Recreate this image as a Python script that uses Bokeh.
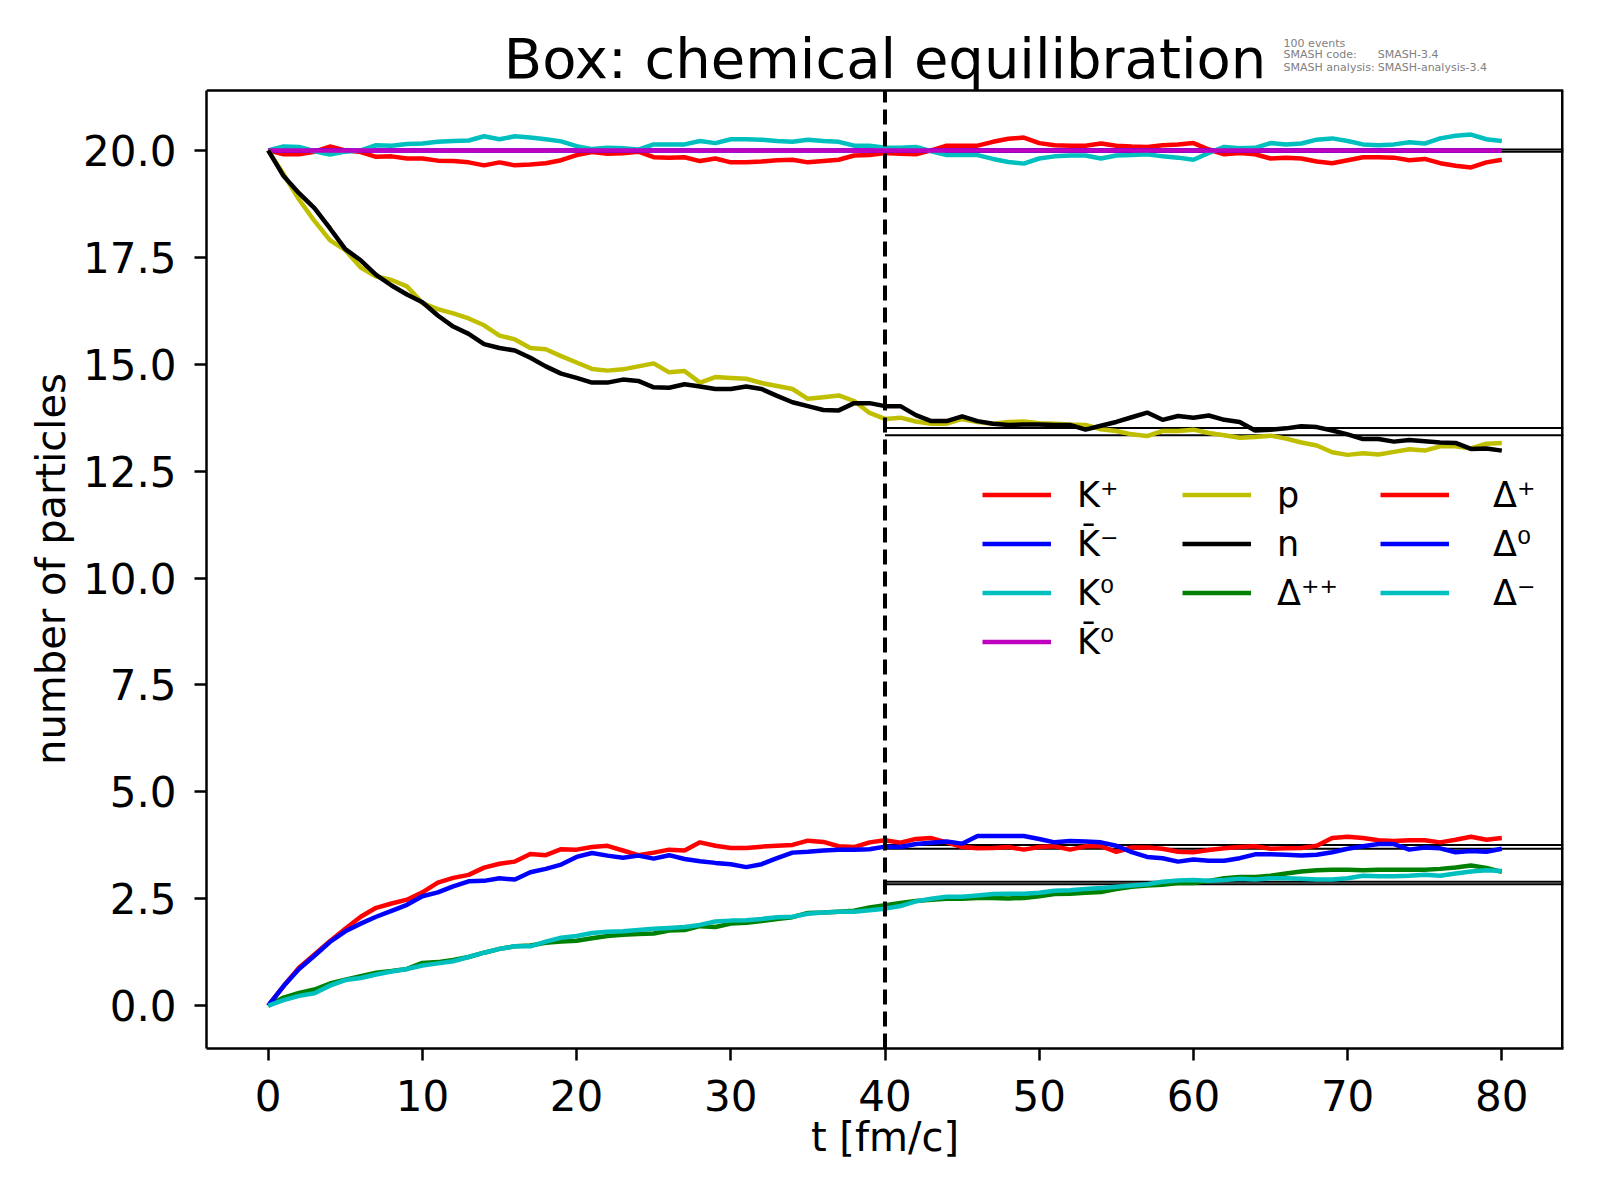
from bokeh.plotting import figure
from bokeh.models import (Range1d, FixedTicker, PrintfTickFormatter, Legend,
                          LegendItem, Label)
from bokeh.embed import file_html
from bokeh.resources import INLINE

FONT = "DejaVu Sans"

t = list(range(81))

k_plus = [20.0, 19.91, 19.91, 19.97, 20.09, 20.0, 19.96, 19.85, 19.86, 19.81,
          19.81, 19.76, 19.75, 19.72, 19.65, 19.72, 19.65, 19.67, 19.70, 19.77,
          19.89, 19.96, 19.92, 19.93, 19.97, 19.84, 19.83, 19.84, 19.75, 19.81,
          19.72, 19.72, 19.74, 19.77, 19.78, 19.72, 19.75, 19.78, 19.88, 19.89,
          19.94, 19.92, 19.91, 20.0, 20.11, 20.11, 20.11, 20.2, 20.27, 20.3,
          20.17, 20.12, 20.11, 20.11, 20.16, 20.11, 20.09, 20.08, 20.12, 20.14,
          20.17, 20.02, 19.91, 19.94, 19.91, 19.81, 19.83, 19.81, 19.74, 19.7,
          19.77, 19.84, 19.84, 19.83, 19.77, 19.8, 19.7, 19.64, 19.6, 19.72, 19.78]
k_bar_minus = [20.0] * 81
k_zero = [20.0, 20.09, 20.08, 19.98, 19.90, 19.97, 20.0, 20.12, 20.11, 20.15,
          20.16, 20.2, 20.22, 20.23, 20.33, 20.26, 20.33, 20.3, 20.26, 20.21,
          20.1, 20.03, 20.06, 20.05, 20.02, 20.14, 20.14, 20.14, 20.22, 20.17,
          20.26, 20.26, 20.25, 20.22, 20.2, 20.25, 20.22, 20.2, 20.11, 20.11,
          20.06, 20.06, 20.08, 19.98, 19.89, 19.89, 19.89, 19.8, 19.73, 19.69,
          19.81, 19.86, 19.88, 19.88, 19.81, 19.88, 19.89, 19.91, 19.86, 19.83,
          19.78, 19.94, 20.08, 20.05, 20.06, 20.17, 20.14, 20.16, 20.25, 20.28,
          20.22, 20.14, 20.12, 20.14, 20.19, 20.16, 20.28, 20.34, 20.37, 20.26, 20.22]
k_bar_zero = [20.0] * 81
proton = [20.0, 19.44, 18.85, 18.35, 17.9, 17.67, 17.26, 17.05, 16.97, 16.82,
          16.43, 16.29, 16.19, 16.07, 15.91, 15.67, 15.58, 15.38, 15.35, 15.19,
          15.04, 14.89, 14.85, 14.88, 14.95, 15.02, 14.81, 14.84, 14.57, 14.70,
          14.68, 14.66, 14.56, 14.49, 14.42, 14.19, 14.23, 14.27, 14.14, 13.86,
          13.72, 13.75, 13.66, 13.61, 13.61, 13.72, 13.65, 13.61, 13.65, 13.66,
          13.62, 13.61, 13.59, 13.58, 13.48, 13.44, 13.36, 13.32, 13.44, 13.44,
          13.47, 13.39, 13.34, 13.28, 13.30, 13.33, 13.26, 13.17, 13.10, 12.94,
          12.88, 12.92, 12.89, 12.95, 13.01, 12.98, 13.08, 13.08, 13.03, 13.14, 13.16]
neutron = [20.0, 19.40, 19.0, 18.65, 18.18, 17.69, 17.43, 17.09, 16.84, 16.63,
           16.45, 16.14, 15.88, 15.71, 15.47, 15.38, 15.32, 15.15, 14.95, 14.78,
           14.68, 14.57, 14.57, 14.64, 14.61, 14.46, 14.45, 14.53, 14.48, 14.42,
           14.42, 14.48, 14.42, 14.26, 14.11, 14.02, 13.93, 13.92, 14.09, 14.09,
           14.02, 14.02, 13.81, 13.67, 13.67, 13.78, 13.67, 13.61, 13.58, 13.59,
           13.59, 13.58, 13.58, 13.47, 13.56, 13.65, 13.76, 13.87, 13.70, 13.79,
           13.75, 13.80, 13.70, 13.65, 13.45, 13.47, 13.50, 13.55, 13.53, 13.45,
           13.36, 13.25, 13.25, 13.19, 13.23, 13.20, 13.17, 13.16, 13.02, 13.03, 12.98]
delta_pp = [0.0, 0.19, 0.30, 0.38, 0.52, 0.61, 0.69, 0.77, 0.81, 0.86,
            1.0, 1.02, 1.07, 1.14, 1.24, 1.33, 1.39, 1.41, 1.47, 1.50,
            1.52, 1.58, 1.63, 1.66, 1.68, 1.69, 1.76, 1.77, 1.86, 1.84,
            1.92, 1.94, 1.98, 2.03, 2.07, 2.17, 2.18, 2.2, 2.22, 2.3,
            2.35, 2.4, 2.45, 2.48, 2.5, 2.5, 2.52, 2.52, 2.51, 2.52,
            2.56, 2.61, 2.62, 2.64, 2.66, 2.73, 2.78, 2.81, 2.83, 2.87,
            2.87, 2.92, 2.98, 3.01, 3.01, 3.04, 3.09, 3.14, 3.17, 3.18,
            3.18, 3.17, 3.18, 3.18, 3.18, 3.18, 3.2, 3.23, 3.28, 3.22, 3.13]
delta_p = [0.0, 0.46, 0.89, 1.2, 1.51, 1.80, 2.08, 2.29, 2.39, 2.48,
           2.65, 2.88, 2.99, 3.06, 3.23, 3.32, 3.37, 3.55, 3.52, 3.66,
           3.65, 3.71, 3.74, 3.63, 3.52, 3.58, 3.65, 3.63, 3.82, 3.74,
           3.69, 3.69, 3.72, 3.74, 3.76, 3.86, 3.83, 3.73, 3.71, 3.82,
           3.87, 3.81, 3.9, 3.92, 3.82, 3.71, 3.68, 3.69, 3.71, 3.65,
           3.71, 3.73, 3.65, 3.73, 3.73, 3.6, 3.7, 3.7, 3.67, 3.6,
           3.59, 3.64, 3.68, 3.71, 3.73, 3.67, 3.68, 3.69, 3.74, 3.92,
           3.95, 3.92, 3.87, 3.85, 3.87, 3.87, 3.82, 3.88, 3.95, 3.88, 3.92]
delta_0 = [0.0, 0.46, 0.86, 1.17, 1.49, 1.74, 1.92, 2.08, 2.22, 2.36,
           2.56, 2.65, 2.79, 2.91, 2.92, 2.98, 2.95, 3.12, 3.2, 3.3,
           3.48, 3.57, 3.51, 3.46, 3.51, 3.44, 3.52, 3.43, 3.38, 3.34,
           3.31, 3.24, 3.31, 3.45, 3.58, 3.6, 3.63, 3.65, 3.65, 3.66,
           3.72, 3.71, 3.78, 3.81, 3.84, 3.79, 3.97, 3.97, 3.97, 3.97,
           3.9, 3.82, 3.85, 3.84, 3.82, 3.74, 3.59, 3.48, 3.45, 3.37,
           3.42, 3.39, 3.39, 3.45, 3.54, 3.54, 3.53, 3.51, 3.53, 3.59,
           3.67, 3.73, 3.78, 3.78, 3.65, 3.7, 3.68, 3.59, 3.62, 3.6, 3.67]
delta_m = [0.0, 0.13, 0.23, 0.29, 0.47, 0.60, 0.65, 0.73, 0.80, 0.86,
           0.94, 0.99, 1.04, 1.14, 1.24, 1.33, 1.39, 1.39, 1.50, 1.59,
           1.63, 1.70, 1.73, 1.74, 1.77, 1.80, 1.82, 1.84, 1.89, 1.97,
           1.99, 2.0, 2.03, 2.07, 2.08, 2.15, 2.18, 2.2, 2.2, 2.23,
           2.27, 2.33, 2.44, 2.5, 2.55, 2.55, 2.58, 2.61, 2.62, 2.62,
           2.64, 2.69, 2.70, 2.73, 2.75, 2.78, 2.81, 2.84, 2.9, 2.93,
           2.94, 2.92, 2.94, 2.97, 2.95, 2.98, 2.98, 2.97, 2.95, 2.95,
           2.98, 3.04, 3.03, 3.03, 3.04, 3.06, 3.04, 3.09, 3.14, 3.17, 3.15]

# equilibrium reference values, drawn from t_eq onward
t_eq = 40
eq_values = [20.02, 19.97, 13.51, 13.34, 3.76, 3.67, 2.90, 2.84]

x_ticks = [0, 10, 20, 30, 40, 50, 60, 70, 80]
y_ticks = [0.0, 2.5, 5.0, 7.5, 10.0, 12.5, 15.0, 17.5, 20.0]

series = [
    ("K\u207A", k_plus, "#ff0000"),
    ("K\u0304\u207B", k_bar_minus, "#0000ff"),
    ("K\u2070", k_zero, "#00bfbf"),
    ("K\u0304\u2070", k_bar_zero, "#bf00bf"),
    ("p", proton, "#bfbf00"),
    ("n", neutron, "#000000"),
    ("\u0394\u207A\u207A", delta_pp, "#008000"),
    ("\u0394\u207A", delta_p, "#ff0000"),
    ("\u0394\u2070", delta_0, "#0000ff"),
    ("\u0394\u207B", delta_m, "#00bfbf"),
]

title_text = "Box: chemical equilibration"
info_left = ["100 events", "SMASH code:", "SMASH analysis:"]
info_right = ["", "SMASH-3.4", "SMASH-analysis-3.4"]

# axes limits (the visible box); the frame is extended upward by a header band
X0, X1 = -4.0, 84.0
Y0, Y1 = -1.0, 21.4
W, H = 1580, 1180
LEFT, RIGHT, BOTTOM = 206, 17, 132
HEADER = 90                      # pixels above the box for title/info
box_h = H - BOTTOM - HEADER      # pixel height of the box
ppu = box_h / (Y1 - Y0)          # pixels per y unit
Y_TOP = Y1 + HEADER / ppu

p = figure(width=W, height=H, output_backend="svg", toolbar_location=None,
           x_range=Range1d(X0, X1), y_range=Range1d(Y0, Y_TOP),
           min_border_left=LEFT, min_border_top=0, min_border_right=RIGHT,
           min_border_bottom=BOTTOM)
p.xgrid.visible = False
p.ygrid.visible = False
p.background_fill_color = "white"
p.border_fill_color = "white"
p.outline_line_color = None

for ax in (p.xaxis[0], p.yaxis[0]):
    ax.axis_line_width = 2.5
    ax.major_tick_line_width = 2.5
    ax.major_tick_in = 0
    ax.major_tick_out = 12
    ax.minor_tick_line_color = None
    ax.major_label_text_font = FONT
    ax.major_label_text_font_size = "42px"
    ax.major_label_text_color = "black"
    ax.axis_label_text_font = FONT
    ax.axis_label_text_font_size = "40px"
    ax.axis_label_text_font_style = "normal"
    ax.axis_label_text_color = "black"

p.yaxis.bounds = (Y0, Y1)
p.xaxis.ticker = FixedTicker(ticks=x_ticks)
p.yaxis.ticker = FixedTicker(ticks=y_ticks)
p.yaxis.formatter = PrintfTickFormatter(format="%.1f")
p.xaxis.axis_label = "t [fm/c]"
# trailing no-break spaces re-centre the rotated label on the box (not the header)
p.yaxis.axis_label = "number of particles" + "\u00A0" * 7
p.xaxis.major_label_standoff = 19
p.yaxis.major_label_standoff = 18
p.xaxis.axis_label_standoff = 0
p.yaxis.axis_label_standoff = 6

# equilibrium lines (beneath the curves)
p.segment(x0=[t_eq] * len(eq_values), x1=[X1] * len(eq_values),
          y0=eq_values, y1=eq_values, line_color="black", line_width=2)

renderers = []
for label, vals, col in series:
    r = p.line(t, vals, line_color=col, line_width=4.5)
    renderers.append((label, r))

# vertical dashed marker
p.segment(x0=[t_eq], x1=[t_eq], y0=[Y0], y1=[Y1], line_color="black",
          line_width=4, line_dash="15 7")

# top and right spines of the box
p.segment(x0=[X0], x1=[X1], y0=[Y1], y1=[Y1], line_color="black", line_width=2.5)
p.segment(x0=[X1], x1=[X1], y0=[Y0], y1=[Y1], line_color="black", line_width=5)


def make_legend(items, loc, standoff=26):
    return Legend(items=[LegendItem(label=lab, renderers=[r]) for lab, r in items],
                  location=loc, orientation="vertical", padding=0, spacing=0,
                  margin=0, glyph_width=69, glyph_height=49, label_height=49,
                  label_standoff=standoff, label_text_font=FONT,
                  label_text_font_size="35px", label_text_color="black",
                  border_line_color=None, background_fill_alpha=0)


p.add_layout(make_legend(renderers[0:4], (776, 382)))
p.add_layout(make_legend(renderers[4:7], (976, 431)))
p.add_layout(make_legend(renderers[7:10], (1174, 431), standoff=44))

p.add_layout(Label(x=(X0 + X1) / 2, y=Y1 + 32 / ppu, text=title_text,
                   text_align="center", text_baseline="alphabetic",
                   text_font=FONT, text_font_size="56px", text_color="black"))

info_y = [Y1 + 47 / ppu, Y1 + 36 / ppu, Y1 + 23 / ppu]
for txt, yy in zip(info_left, info_y):
    p.add_layout(Label(x=65.85, y=yy, text=txt, text_align="left",
                       text_baseline="middle", text_font=FONT,
                       text_font_size="11px", text_color="#808080"))
for txt, yy in zip(info_right, info_y):
    if txt:
        p.add_layout(Label(x=71.95, y=yy, text=txt, text_align="left",
                           text_baseline="middle", text_font=FONT,
                           text_font_size="11px", text_color="#808080"))

open("out.html", "w").write(file_html(p, INLINE))
